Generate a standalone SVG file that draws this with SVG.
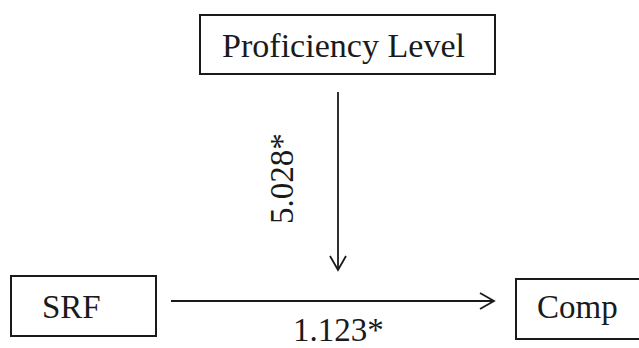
<svg xmlns="http://www.w3.org/2000/svg" width="639" height="348" viewBox="0 0 639 348">
  <defs>
    <style>
      .box { fill: #ffffff; stroke: #1a1a1a; stroke-width: 2; }
      .label { font-family: "Liberation Serif", "Times New Roman", serif; font-size: 33px; fill: #1a1a1a; }
      .edge { fill: none; stroke: #1a1a1a; stroke-width: 1.8; }
    </style>
    <marker id="openArrow" viewBox="0 0 18 20" refX="16" refY="10" markerWidth="18" markerHeight="20" markerUnits="userSpaceOnUse" orient="auto">
      <path d="M2,2 L16,10 L2,18" fill="none" stroke="#1a1a1a" stroke-width="1.8"/>
    </marker>
  </defs>
  <rect width="639" height="348" fill="#ffffff"/>

  <g id="node-proficiency">
    <rect class="box" x="200" y="15" width="295" height="59"/>
    <text class="label" x="222" y="57" textLength="243" lengthAdjust="spacingAndGlyphs">Proficiency Level</text>
  </g>

  <g id="node-srf">
    <rect class="box" x="11" y="276" width="145" height="60"/>
    <text class="label" x="42" y="318">SRF</text>
  </g>

  <g id="node-comp">
    <rect class="box" x="516" y="279" width="140" height="60"/>
    <text class="label" x="537" y="318">Comp</text>
  </g>

  <g id="connectors">
    <line class="edge" x1="338" y1="92" x2="338" y2="270" marker-end="url(#openArrow)"/>
    <text class="label" transform="translate(293,224) rotate(-90)">5.028*</text>
    <line class="edge" x1="171" y1="301" x2="494" y2="301" marker-end="url(#openArrow)"/>
    <text class="label" x="293" y="341">1.123*</text>
  </g>
</svg>
